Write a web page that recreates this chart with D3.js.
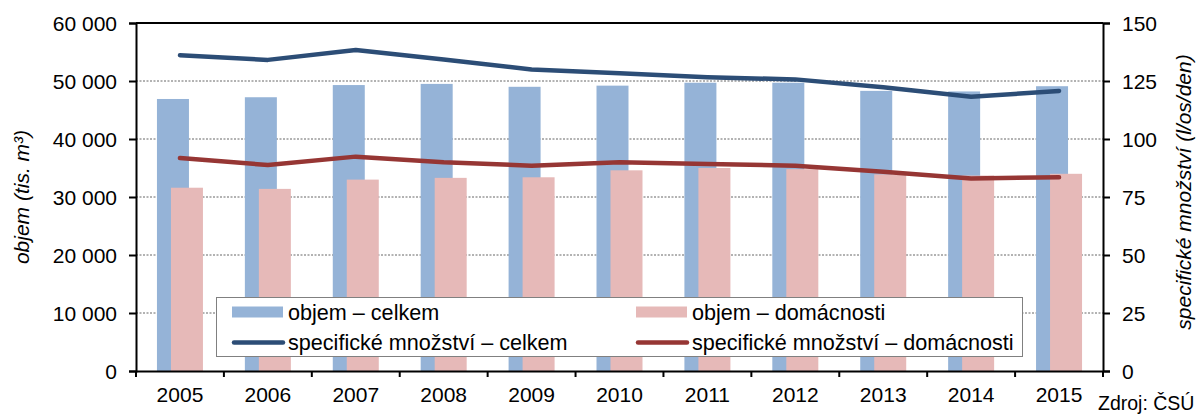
<!DOCTYPE html>
<html>
<head>
<meta charset="utf-8">
<script src="https://cdn.jsdelivr.net/npm/d3@7"></script>
<style>
  html, body { margin: 0; padding: 0; background: #fff; }
  svg { display: block; font-family: "Liberation Sans", Arial, sans-serif; }
</style>
</head>
<body>
<svg id="chart" width="1200" height="414"></svg>
<script>
// ---- data ----
const years = ["2005","2006","2007","2008","2009","2010","2011","2012","2013","2014","2015"];
const objemCelkem = [46900, 47200, 49300, 49500, 49000, 49200, 49700, 49700, 48300, 48200, 49100];
const objemDomacnosti = [31600, 31400, 33000, 33300, 33400, 34600, 35000, 34800, 33900, 33700, 34000];
const specCelkem = [136.1, 134.1, 138.4, 134.3, 130.0, 128.3, 126.6, 125.7, 122.3, 118.2, 120.7];
const specDomacnosti = [91.8, 88.8, 92.4, 90.0, 88.5, 90.0, 89.2, 88.5, 85.9, 83.0, 83.5];
const leftTicks = [0, 10000, 20000, 30000, 40000, 50000, 60000];
const rightTicks = [0, 25, 50, 75, 100, 125, 150];
const seriesNames = ["objem – celkem", "objem – domácnosti", "specifické množství – celkem", "specifické množství – domácnosti"];
const leftTitle = "objem (tis. m³)";
const rightTitle = "specifické množství (l/os/den)";
const sourceText = "Zdroj: ČSÚ";

// ---- layout ----
const L = 136, R = 1103, T = 23, B = 371;
const FS = 21;
const colBlueBar = "#95b3d7", colPinkBar = "#e6b9b8", colBlueLine = "#2c4d76", colRedLine = "#963634";

const svg = d3.select("#chart");
const x = d3.scaleBand().domain(years).range([L, R]).paddingInner(0).paddingOuter(0);
const yL = d3.scaleLinear().domain([0, 60000]).range([B, T]);
const yR = d3.scaleLinear().domain([0, 150]).range([B, T]);
const loc = d3.formatLocale({decimal: ",", thousands: " ", grouping: [3], currency: ["", ""]});
const fmt = loc.format(",d");

// gridlines
svg.append("g").selectAll("line").data(leftTicks.filter(d => d > 0 && d < 60000)).join("line")
  .attr("x1", L).attr("x2", R).attr("y1", d => yL(d)).attr("y2", d => yL(d))
  .attr("stroke", "#666").attr("stroke-width", 1).attr("stroke-dasharray", "2,1.5");

// bars
const bw = 32;
const data = years.map((y, i) => ({y, c: objemCelkem[i], d: objemDomacnosti[i], sc: specCelkem[i], sd: specDomacnosti[i]}));
svg.append("g").selectAll("rect").data(data).join("rect")
  .attr("x", d => x(d.y) + x.bandwidth() / 2 - 23).attr("width", bw)
  .attr("y", d => yL(d.c)).attr("height", d => B - yL(d.c)).attr("fill", colBlueBar);
svg.append("g").selectAll("rect").data(data).join("rect")
  .attr("x", d => x(d.y) + x.bandwidth() / 2 - 9).attr("width", bw)
  .attr("y", d => yL(d.d)).attr("height", d => B - yL(d.d)).attr("fill", colPinkBar);

// lines
const cx = d => x(d.y) + x.bandwidth() / 2;
svg.append("path").datum(data)
  .attr("d", d3.line().x(cx).y(d => yR(d.sc)))
  .attr("fill", "none").attr("stroke", colBlueLine).attr("stroke-width", 4.5).attr("stroke-linejoin", "round").attr("stroke-linecap", "round");
svg.append("path").datum(data)
  .attr("d", d3.line().x(cx).y(d => yR(d.sd)))
  .attr("fill", "none").attr("stroke", colRedLine).attr("stroke-width", 4.5).attr("stroke-linejoin", "round").attr("stroke-linecap", "round");

// top border
svg.append("line").attr("x1", L).attr("x2", R).attr("y1", T).attr("y2", T).attr("stroke", "#000").attr("stroke-width", 2);

// axes
const axL = svg.append("g").attr("transform", `translate(${L},0)`)
  .call(d3.axisLeft(yL).tickValues(leftTicks).tickFormat(fmt).tickSizeOuter(0).tickSize(7).tickPadding(12));
const axR = svg.append("g").attr("transform", `translate(${R},0)`)
  .call(d3.axisRight(yR).tickValues(rightTicks).tickSizeOuter(0).tickSize(7).tickPadding(12));
const axB = svg.append("g").attr("transform", `translate(0,${B})`)
  .call(d3.axisBottom(x).tickSize(0).tickSizeOuter(0).tickPadding(16));
// category boundary ticks on x axis
svg.append("g").selectAll("line").data(years.concat(["end"])).join("line")
  .attr("x1", (d, i) => i < years.length ? x(d) : R).attr("x2", (d, i) => i < years.length ? x(d) : R)
  .attr("y1", B).attr("y2", B + 6).attr("stroke", "#000").attr("stroke-width", 2);

[axL, axR, axB].forEach(a => {
  a.select(".domain").attr("stroke", "#000").attr("stroke-width", 2);
  a.selectAll(".tick line").attr("stroke", "#000").attr("stroke-width", 2);
  a.selectAll("text").attr("font-size", FS).attr("font-family", "Liberation Sans, Arial, sans-serif").attr("fill", "#000");
});
axL.selectAll(".tick text").attr("dy", "0.36em");
axR.selectAll(".tick text").attr("dy", "0.36em");

// axis titles
svg.append("text").attr("transform", `translate(29,${(T + B) / 2}) rotate(-90)`)
  .attr("text-anchor", "middle").attr("font-size", FS).attr("font-style", "italic").text(leftTitle);
svg.append("text").attr("transform", `translate(1191,${(T + B) / 2 - 5}) rotate(-90)`)
  .attr("text-anchor", "middle").attr("font-size", FS).attr("font-style", "italic").text(rightTitle);

// source
svg.append("text").attr("x", 1098).attr("y", 410).attr("font-size", 19.5).text(sourceText);

// legend
const lg = svg.append("g");
lg.append("rect").attr("x", 216.5).attr("y", 297.5).attr("width", 806).attr("height", 59)
  .attr("fill", "#fff").attr("stroke", "#808080").attr("stroke-width", 1);
const items = [
  {name: seriesNames[0], type: "bar", color: colBlueBar, sx: 232, row: 0},
  {name: seriesNames[1], type: "bar", color: colPinkBar, sx: 636, row: 0},
  {name: seriesNames[2], type: "line", color: colBlueLine, sx: 232, row: 1},
  {name: seriesNames[3], type: "line", color: colRedLine, sx: 636, row: 1}
];
const rowY = [312, 342.5];
items.forEach(it => {
  const cy = rowY[it.row];
  if (it.type === "bar") {
    lg.append("rect").attr("x", it.sx).attr("y", cy - 5.5).attr("width", 51).attr("height", 11).attr("fill", it.color);
  } else {
    lg.append("line").attr("x1", it.sx + 2).attr("x2", it.sx + 51).attr("y1", cy).attr("y2", cy)
      .attr("stroke", it.color).attr("stroke-width", 4.5).attr("stroke-linecap", "round");
  }
  lg.append("text").attr("x", it.sx + 56).attr("y", cy).attr("dy", "0.36em")
    .attr("font-size", 21.6).text(it.name);
});
</script>
</body>
</html>
